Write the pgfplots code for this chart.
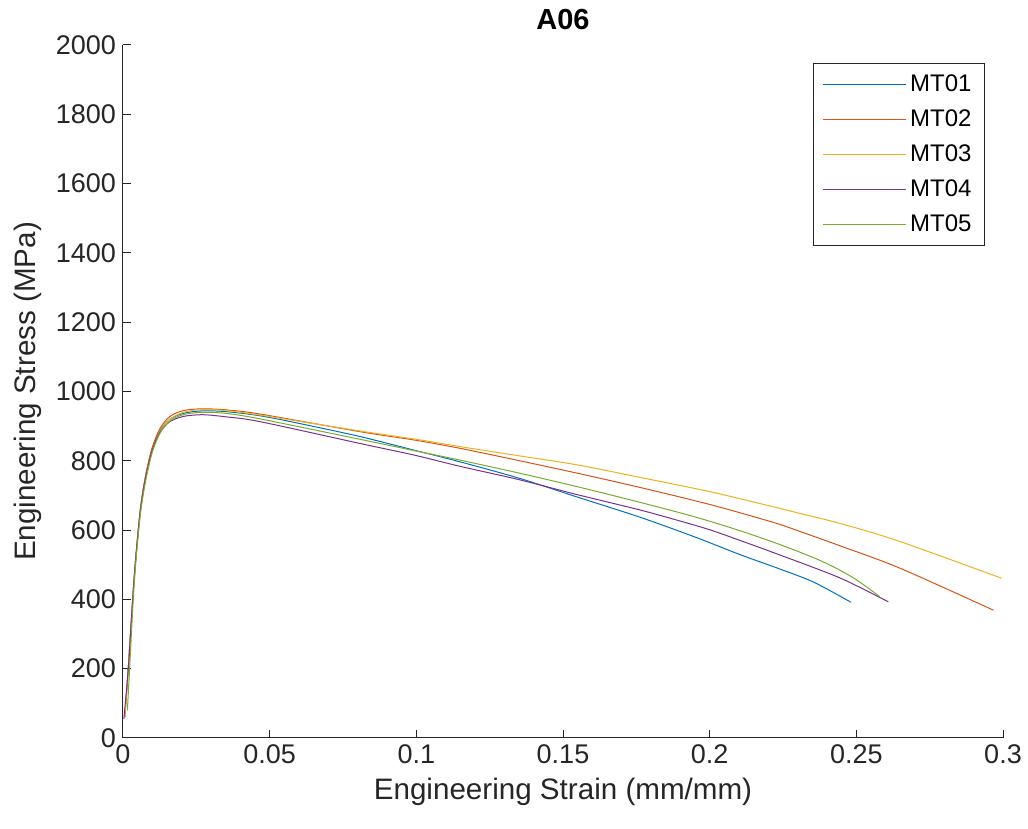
\documentclass[border=0pt]{standalone}
\usepackage{fontspec}
\setmainfont{Liberation Sans}
\usepackage{pgfplots}
\pgfplotsset{compat=1.18}
\usetikzlibrary{calc}
\definecolor{mblue}{rgb}{0,0.447,0.741}
\definecolor{morange}{rgb}{0.85,0.325,0.098}
\definecolor{myellow}{rgb}{0.929,0.694,0.125}
\definecolor{mpurple}{rgb}{0.494,0.184,0.556}
\definecolor{mgreen}{rgb}{0.466,0.674,0.188}
\definecolor{axgray}{rgb}{0.15,0.15,0.15}
\begin{document}
\begin{tikzpicture}
\begin{axis}[
  scale only axis, width=440pt, height=346.5pt,
  xmin=0, xmax=0.3, ymin=0, ymax=2000,
  axis lines=left, axis line style={axgray,line width=0.5pt,-},
  tick style={axgray,line width=0.5pt}, tick align=inside,
  major tick length=4pt,
  xtick={0,0.05,0.1,0.15,0.2,0.25,0.3},
  xticklabels={0,0.05,0.1,0.15,0.2,0.25,0.3},
  ytick={0,200,400,600,800,1000,1200,1400,1600,1800,2000},
  scaled ticks=false,
  /pgf/number format/assume math mode=true,
  /pgf/number format/1000 sep={},
  tick label style={font=\fontsize{13.5}{15}\selectfont, text=axgray},
  label style={font=\fontsize{14.8}{17}\selectfont, text=axgray},
  xlabel={Engineering Strain (mm/mm)},
  ylabel={Engineering Stress (MPa)},
  title={\textbf{A06}},
  title style={font=\fontsize{14.5}{17}\selectfont, yshift=-2pt},
  legend style={at={(0.9795,0.974)}, anchor=north east, draw=axgray,
    line width=0.5pt, font=\fontsize{12}{14}\selectfont,
    cells={anchor=west}, inner xsep=4.5pt, inner ysep=3.5pt,
    row sep=3.6pt},
  legend image code/.code={\draw[#1] (0cm,0cm) -- (1.45cm,0cm);},
  every axis plot/.append style={line width=0.5pt, smooth},
]
\addplot[mblue] coordinates {
 (0.0006,60)(0.0018,200)(0.003,360)(0.0041,494)(0.0058,650)(0.0075,745)
 (0.0098,830)(0.0126,887)(0.016,920)(0.0206,937)(0.027,944)(0.035,942)
 (0.0467,930)(0.06,908)(0.0808,870)(0.1,829)(0.1149,797)(0.1353,749)
 (0.155,695)(0.1763,637)(0.195,580)(0.2104,529)(0.2235,489)(0.2354,450)
 (0.2481,392)};
\addlegendentry{MT01}
\addplot[morange] coordinates {
 (0.0006,60)(0.0018,200)(0.003,360)(0.0041,494)(0.0058,652)(0.0075,748)
 (0.0098,834)(0.0126,893)(0.016,928)(0.0206,945)(0.027,950)(0.035,947)
 (0.0467,935)(0.0808,884)(0.1,859)(0.1149,836)(0.1353,800)(0.155,764)
 (0.1763,723)(0.2,674)(0.2218,622)(0.2308,596)(0.245,553)(0.2649,490)
 (0.2967,369)};
\addlegendentry{MT02}
\addplot[myellow] coordinates {
 (0.0006,60)(0.0018,200)(0.003,358)(0.0041,490)(0.0058,645)(0.0075,740)
 (0.0098,825)(0.0126,885)(0.016,920)(0.0206,940)(0.027,948)(0.035,945)
 (0.0467,932)(0.0808,886)(0.1,862)(0.1149,841)(0.1353,814)(0.155,788)
 (0.1763,752)(0.2,711)(0.2218,667)(0.2308,648)(0.245,618)(0.2649,567)
 (0.2995,461)};
\addlegendentry{MT03}
\addplot[mpurple] coordinates {
 (0.0003,55)(0.0018,200)(0.003,360)(0.0041,494)(0.0058,648)(0.0075,742)
 (0.0098,826)(0.0126,882)(0.016,913)(0.0206,928)(0.027,933)(0.035,927)
 (0.0467,913)(0.0808,850)(0.1,815)(0.1149,784)(0.1353,745)(0.155,702)
 (0.1763,658)(0.19,626)(0.2,601)(0.2104,570)(0.224,528)(0.2444,462)
 (0.2609,393)};
\addlegendentry{MT04}
\addplot[mgreen] coordinates {
 (0.0015,80)(0.0025,240)(0.0035,400)(0.0045,520)(0.006,650)(0.0078,745)
 (0.0101,828)(0.013,885)(0.0165,918)(0.021,934)(0.027,940)(0.035,937)
 (0.0467,921)(0.0808,862)(0.1,828)(0.1149,802)(0.1353,764)(0.155,725)
 (0.1763,680)(0.195,638)(0.2104,598)(0.225,555)(0.2388,508)(0.249,462)
 (0.258,408)};
\addlegendentry{MT05}
\end{axis}
\pgfresetboundingbox
\path[use as bounding box]
  ($(current axis.south west)+(-61.5pt,-45.5pt)$) rectangle
  ($(current axis.north east)+(12.5pt,22.5pt)$);
\end{tikzpicture}
\end{document}
